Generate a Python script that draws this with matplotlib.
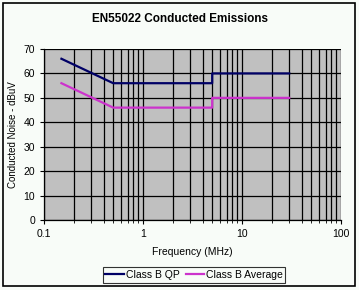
import matplotlib
matplotlib.use("Agg")
import matplotlib.pyplot as plt
from matplotlib.patches import Rectangle

plt.rcParams['font.family'] = ['Liberation Sans', 'DejaVu Sans']

qp_freq = [0.15, 0.5, 5, 5, 30]
qp_level = [66, 56, 56, 60, 60]
avg_freq = [0.15, 0.5, 5, 5, 30]
avg_level = [56, 46, 46, 50, 50]
x_ticks = [0.1, 1, 10, 100]
x_labels = ['0.1', '1', '10', '100']
y_ticks = [0, 10, 20, 30, 40, 50, 60, 70]

W, H = 359, 290
fig = plt.figure(figsize=(W/100, H/100), dpi=100, facecolor='#F8FCF8')
fig.patches.append(Rectangle((3/W, 4/H), 352/W, 283/H, transform=fig.transFigure,
                             fill=False, edgecolor='black', linewidth=1.2))

ax = fig.add_axes([44/W, 1-220/H, (341-44)/W, (220-49)/H])
ax.set_facecolor('#C0C0C0')
ax.set_xscale('log')
ax.set_xlim(0.1, 100)
ax.set_ylim(0, 70)

ax.plot(qp_freq, qp_level, color='#000066', linewidth=1.6, label='Class B QP')
ax.plot(avg_freq, avg_level, color='#CC33CC', linewidth=1.6, label='Class B Average')

ax.set_xticks(x_ticks)
ax.set_xticklabels(x_labels)
ax.set_yticks(y_ticks)
ax.grid(True, which='major', color='black', linewidth=0.9)
ax.grid(True, which='minor', axis='x', color='black', linewidth=0.9)
ax.tick_params(axis='both', which='major', labelsize=7.5, length=3, width=0.8, color='black')
ax.tick_params(axis='x', which='minor', length=2, width=0.6)
for s in ['top', 'right']:
    ax.spines[s].set_visible(False)
for s in ['left', 'bottom']:
    ax.spines[s].set_color('black')
    ax.spines[s].set_linewidth(0.9)

ax.set_xlabel('Frequency (MHz)', fontsize=7.5, labelpad=6)
ax.set_ylabel('Conducted Noise - dBuV', fontsize=7)
ax.yaxis.set_label_coords((18-44)/297, 0.5)
fig.text(0.5, 1-19/H, 'EN55022 Conducted Emissions', ha='center', va='center',
         fontsize=8.5, fontweight='bold')

leg = fig.legend(loc='center', bbox_to_anchor=(194/W, 1-275/H), ncol=2, fontsize=7.5,
                 frameon=True, fancybox=False, handlelength=1.8, handletextpad=0.15,
                 columnspacing=0.6, borderpad=0.25, facecolor='#F8FCF8', edgecolor='black')
leg.get_frame().set_linewidth(0.8)

fig.savefig('out.png', dpi=100, facecolor=fig.get_facecolor())
